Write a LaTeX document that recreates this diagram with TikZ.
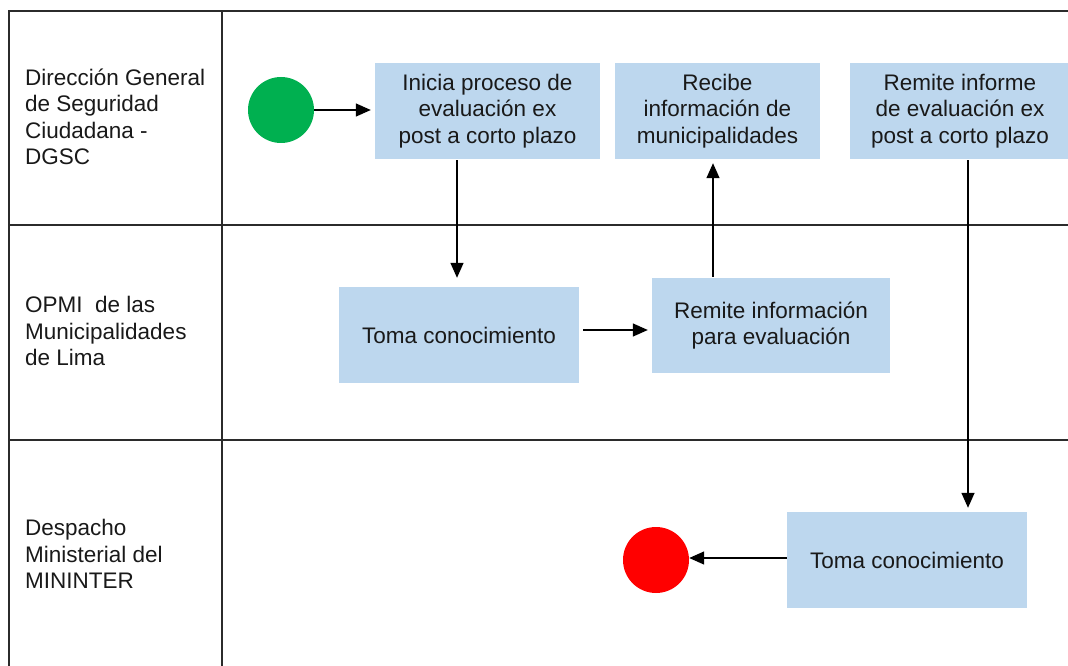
\documentclass[tikz,border=0pt]{standalone}
\usepackage{fontspec}
\setmainfont{Liberation Sans}
\usetikzlibrary{arrows.meta,calc}
\definecolor{boxblue}{HTML}{BDD7EE}
\definecolor{startgreen}{HTML}{00B050}
\definecolor{endred}{HTML}{FF0000}
\definecolor{gridline}{HTML}{2B2B2B}
\begin{document}
\begin{tikzpicture}[x=1pt,y=-1pt,
  every node/.style={font=\fontsize{22.5}{26.5}\selectfont},
  lanelabel/.style={anchor=west,align=left,inner sep=0pt,text=black!90},
  procbox/.style={fill=boxblue,draw=none,align=center,minimum height=96pt,inner sep=2pt,text=black!90},
  startdot/.style={circle,fill=startgreen,minimum size=66pt,inner sep=0pt},
  enddot/.style={circle,fill=endred,minimum size=66pt,inner sep=0pt},
  flow/.style={line width=1.4pt,-{Triangle[length=15pt,width=13pt]}},
  lane/.style={line width=1.8pt,draw=gridline}]
\useasboundingbox (0,0) rectangle (1068,666);
\begin{scope}
\clip (0,0) rectangle (1068,666);
% lanes
\draw[lane] (9,666) -- (9,11) -- (1080,11);
\draw[lane] (222,11) -- (222,680);
\draw[lane] (9,225) -- (1080,225);
\draw[lane] (9,440) -- (1080,440);
% labels
\node[lanelabel] (l1) at (25,117) {Dirección General\\de Seguridad\\Ciudadana -\\DGSC};
\node[lanelabel] (l2) at (25,331) {OPMI\ \ de las\\Municipalidades\\de Lima};
\node[lanelabel] (l3) at (25,554) {Despacho\\Ministerial del\\MININTER};
% nodes
\node[startdot] (start) at (281,110) {};
\node[procbox,minimum width=225pt] (b1) at (487.5,111) {Inicia proceso de\\evaluación ex\\post a corto plazo};
\node[procbox,minimum width=205pt] (b2) at (717.5,111) {Recibe\\información de\\municipalidades};
\node[procbox,minimum width=220pt] (b3) at (960,111) {Remite informe\\de evaluación ex\\post a corto plazo};
\node[procbox,minimum width=240pt] (b4) at (459,335) {Toma conocimiento};
\node[procbox,minimum width=238pt,minimum height=95pt] (b5) at (771,325.5) {Remite información\\para evaluación};
\node[procbox,minimum width=240pt] (b6) at (907,560) {Toma conocimiento};
\node[enddot] (stop) at (656,560) {};
% connectors
\draw[flow,shorten >=4pt] (start.east) -- (b1.west |- start.east);
\draw[flow,shorten <=1pt,shorten >=9pt] ([xshift=-30.5pt]b1.south) -- ([xshift=-30.5pt]b1.south |- b4.north);
\draw[flow,shorten <=4pt,shorten >=4pt] (b4.east |- 0,330) -- (b5.west |- 0,330);
\draw[flow,shorten <=1pt,shorten >=4pt] (b5.north -| 713,0) -- (b2.south -| 713,0);
\draw[flow,shorten <=1pt,shorten >=4pt] (b3.south -| 968,0) -- (b6.north -| 968,0);
\draw[flow] (b6.west |- 0,558) -- (stop.east |- 0,558);
\end{scope}
\end{tikzpicture}
\end{document}
